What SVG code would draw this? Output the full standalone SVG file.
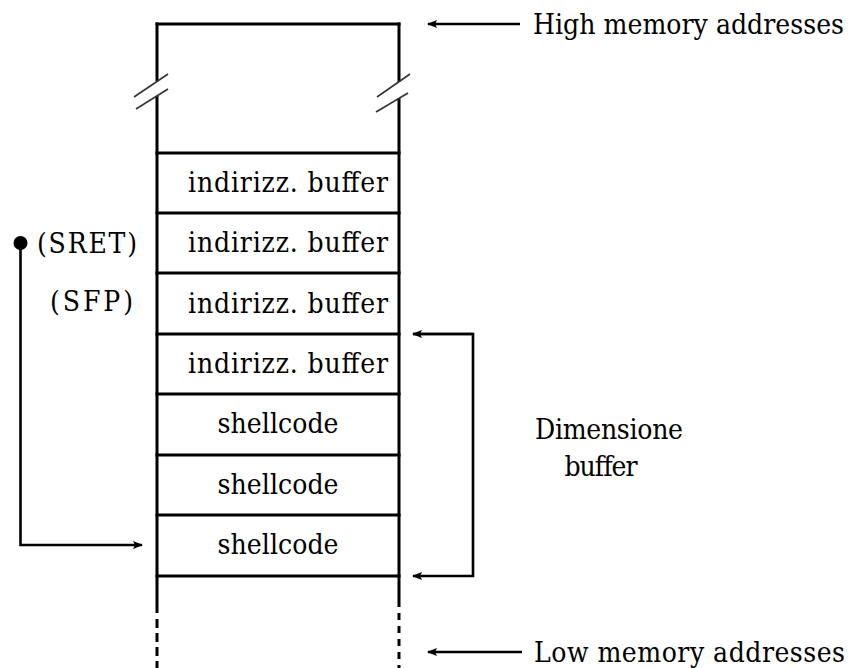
<svg xmlns="http://www.w3.org/2000/svg" width="855" height="668" viewBox="0 0 855 668">
  <style>
    .lbl { font-family: 'DejaVu Serif Condensed', 'DejaVu Serif', 'Liberation Serif', serif; font-stretch: condensed; font-size: 28px; fill: #000; }
    .frame { stroke: #000; stroke-width: 3; fill: none; }
    .cell { stroke: #000; stroke-width: 3; fill: none; }
    .brk { stroke: #333; stroke-width: 1.6; fill: none; }
    .conn { stroke: #000; stroke-width: 2.6; fill: none; }
  </style>
  <defs>
    <marker id="arr" viewBox="0 0 10 8" refX="9" refY="4" markerWidth="10" markerHeight="8" markerUnits="userSpaceOnUse" orient="auto">
      <path d="M0,0 L10,4 L0,8 L2,4 Z" fill="#000"/>
    </marker>
  </defs>

  <!-- stack frame outline -->
  <g id="stack">
    <line class="frame" x1="155.5" y1="24" x2="400.5" y2="24"/>
    <line class="frame" x1="157" y1="22.5" x2="157" y2="81"/>
    <line class="frame" x1="157" y1="96" x2="157" y2="613"/>
    <line class="frame" x1="157" y1="619" x2="157" y2="668" stroke-dasharray="9 5"/>
    <line class="frame" x1="399" y1="22.5" x2="399" y2="82"/>
    <line class="frame" x1="399" y1="98" x2="399" y2="607"/>
    <line class="frame" x1="399" y1="613" x2="399" y2="668" stroke-dasharray="7 6"/>
    <!-- break marks -->
    <line class="brk" x1="134" y1="97" x2="168" y2="74"/>
    <line class="brk" x1="136" y1="109" x2="168" y2="89"/>
    <line class="brk" x1="377" y1="97" x2="410" y2="74"/>
    <line class="brk" x1="376" y1="112" x2="408" y2="93"/>
  </g>

  <g id="cell1">
    <line class="cell" x1="155.5" y1="153" x2="400.5" y2="153"/>
    <text class="lbl" x="188" y="192" textLength="200">indirizz. buffer</text>
  </g>
  <g id="cell2">
    <line class="cell" x1="155.5" y1="213" x2="400.5" y2="213"/>
    <text class="lbl" x="188" y="252" textLength="200">indirizz. buffer</text>
  </g>
  <g id="cell3">
    <line class="cell" x1="155.5" y1="273" x2="400.5" y2="273"/>
    <text class="lbl" x="188" y="313" textLength="200">indirizz. buffer</text>
  </g>
  <g id="cell4">
    <line class="cell" x1="155.5" y1="334" x2="400.5" y2="334"/>
    <text class="lbl" x="188" y="373" textLength="200">indirizz. buffer</text>
  </g>
  <g id="cell5">
    <line class="cell" x1="155.5" y1="394" x2="400.5" y2="394"/>
    <text class="lbl" x="278" y="433" text-anchor="middle" textLength="121">shellcode</text>
  </g>
  <g id="cell6">
    <line class="cell" x1="155.5" y1="455" x2="400.5" y2="455"/>
    <text class="lbl" x="278" y="494" text-anchor="middle" textLength="121">shellcode</text>
  </g>
  <g id="cell7">
    <line class="cell" x1="155.5" y1="515" x2="400.5" y2="515"/>
    <text class="lbl" x="278" y="554" text-anchor="middle" textLength="121">shellcode</text>
    <line class="cell" x1="155.5" y1="576" x2="400.5" y2="576"/>
  </g>

  <!-- side labels -->
  <g id="sret">
    <circle cx="20.5" cy="243" r="7" fill="#000"/>
    <text class="lbl" x="37" y="253" textLength="100">(SRET)</text>
  </g>
  <g id="sfp">
    <text class="lbl" x="50" y="311" textLength="83">(SFP)</text>
  </g>
  <g id="high">
    <text class="lbl" x="533" y="34" textLength="311">High memory addresses</text>
  </g>
  <g id="low">
    <text class="lbl" x="534" y="662" textLength="311">Low memory addresses</text>
  </g>
  <g id="dim">
    <text class="lbl" x="609" y="439" text-anchor="middle" textLength="148">Dimensione</text>
    <text class="lbl" x="601" y="476" text-anchor="middle" textLength="73">buffer</text>
  </g>

  <!-- connectors -->
  <g id="connectors">
    <polyline class="conn" points="20.5,243 20.5,545 142,545" marker-end="url(#arr)"/>
    <polyline class="conn" points="413,334 473,334 473,576 413,576" marker-end="url(#arr)"/>
    <line class="conn" x1="473" y1="334" x2="413" y2="334" marker-end="url(#arr)"/>
    <line class="conn" x1="520" y1="24" x2="428" y2="24" stroke-width="2" marker-end="url(#arr)"/>
    <line class="conn" x1="522" y1="652" x2="428" y2="652" stroke-width="3" marker-end="url(#arr)"/>
  </g>
</svg>
